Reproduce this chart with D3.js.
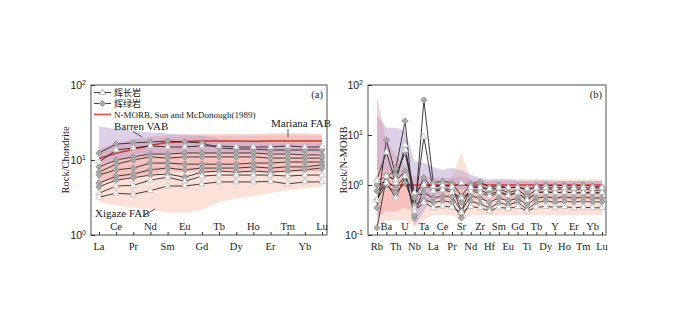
<!DOCTYPE html>
<html>
<head>
<meta charset="utf-8">
<script src="https://d3js.org/d3.v7.min.js"></script>
<style>
  body { margin: 0; background: #fff; }
  svg { font-family: "Liberation Serif", "DejaVu Serif", serif; }
</style>
</head>
<body>
<svg id="chart" width="700" height="335"></svg>
<script>
// ---- data (a): chondrite normalised REE ----
const reeLabels = ["La","Ce","Pr","Nd","Sm","Eu","Gd","Tb","Dy","Ho","Er","Tm","Yb","Lu"]
const nmorbREE = [10.5,12.3,13.9,15.6,17.2,17.6,17.9,17.9,17.9,17.8,17.9,17.9,17.9,17.9]
const gabbroREE = [
  [9.4,13.6,14.5,15.4,14.9,14.9,15.4,15.4,14.9,14.9,14.9,15.4,14.9,14.9],
  [3.6,4.5,4.6,5.4,5.9,5.2,6.1,6.3,6.3,6.3,6.3,6.1,6.3,6.3],
  [3.2,3.6,3.5,3.9,4.5,4.5,4.8,5.1,5.1,5.1,5.2,4.8,5.1,5.1]
]
const diabaseREE = [
  [12.4,16.3,16.9,17.4,17.9,17.4,16.9,14.5,14.0,14.0,13.6,13.6,13.6,13.6],
  [8.1,10.0,11.0,12.0,12.0,12.4,12.4,12.4,12.4,12.4,12.0,12.0,11.7,11.7],
  [6.9,8.8,10.0,11.0,10.6,11.0,11.0,11.0,11.0,11.0,10.6,10.6,10.6,10.6],
  [6.3,7.4,7.8,9.1,9.1,8.8,8.8,8.8,8.8,9.1,9.1,9.4,9.4,9.4],
  [4.9,6.1,6.5,7.4,7.8,7.4,7.8,7.8,7.8,8.1,7.8,8.1,8.1,8.6],
  [4.4,5.4,5.8,6.3,6.5,5.9,6.9,7.1,6.9,7.1,6.9,7.1,7.4,7.8]
]
const barrenReeUpper  = [28,26,24.5,23.5,22.5,21.5,21,19,18,17.5,17,17,17,17]
const barrenReeLower  = [9,10.5,11.5,12,12.5,12.5,12.5,12.5,12.5,12.5,12.5,12.5,12.5,12.5]
const marianaReeUpper = [14,17,19,20.5,21.5,22,22,22,22,22,22.5,22.5,22.5,22]
const marianaReeLower = [5,5.5,6,6.5,7,7,7,7,7,7,7,7,7,7]
const xigazeReeUpper  = [13,16,18,19.5,20,20.5,21,21,21,21,21,21,21,21]
const xigazeReeLower  = [2.75,2.5,2.3,2.15,2.0,1.97,2.15,2.75,3.1,3.3,3.6,4.0,4.2,4.4]

// ---- data (b): N-MORB normalised spidergram ----
const spiderLabels = ["Rb","Ba","Th","U","Nb","Ta","La","Ce","Pr","Sr","Nd","Zr","Hf","Sm","Eu","Gd","Ti","Tb","Dy","Y","Ho","Er","Tm","Yb","Lu"]
const nmorbSpider = [1,1,1,1,1,1,1,1,1,1,1,1,1,1,1,1,1,1,1,1,1,1,1,1,1]
const gabbroSpider = [
  [1.3,4.5,1.1,6.3,0.35,9.1,0.75,0.8,0.72,0.55,0.75,0.7,0.6,0.7,0.62,0.7,0.5,0.7,0.72,0.7,0.72,0.7,0.7,0.72,0.7],
  [1.2,1.5,1.3,5,0.7,1.0,0.95,0.98,0.92,1.1,0.9,0.88,0.85,0.88,0.9,0.88,0.85,0.88,0.88,0.87,0.88,0.87,0.88,0.87,0.88],
  [0.5,1.1,0.55,1.5,0.3,0.45,0.35,0.38,0.36,0.28,0.37,0.35,0.3,0.36,0.34,0.37,0.3,0.36,0.37,0.36,0.37,0.35,0.36,0.35,0.35]
]
const diabaseSpider = [
  [0.5,1.6,1.2,1.9,0.22,50,1.1,1.2,1.1,0.6,1.05,1.15,0.9,1.0,0.85,0.95,0.75,0.95,1.0,0.95,1.0,0.95,1.0,0.95,0.9],
  [0.14,1.4,2.1,19,0.25,0.9,0.9,1.0,0.95,0.3,0.9,0.95,0.75,0.85,0.7,0.8,0.6,0.8,0.85,0.8,0.85,0.8,0.82,0.8,0.78],
  [0.35,7.9,1.6,4.5,0.55,1.4,0.8,0.85,0.8,0.45,0.8,0.8,0.65,0.75,0.62,0.72,0.5,0.7,0.75,0.7,0.72,0.7,0.7,0.68,0.7],
  [1.0,1.2,0.9,1.5,0.6,0.7,0.55,0.6,0.58,0.3,0.6,0.55,0.45,0.55,0.48,0.55,0.4,0.55,0.58,0.55,0.58,0.55,0.57,0.55,0.55],
  [0.75,1.0,0.7,1.1,0.4,0.5,0.45,0.48,0.45,0.22,0.47,0.42,0.35,0.44,0.4,0.46,0.32,0.45,0.48,0.45,0.47,0.46,0.47,0.46,0.46]
]
const barrenSpiderUpper  = [25,14,14,12,3,2.8,2.3,2.0,2.2,2.0,1.6,1.4,1.3,1.3,1.3,1.25,1.2,1.25,1.25,1.2,1.2,1.2,1.2,1.2,1.2]
const barrenSpiderLower  = [2,2,1.5,1.5,0.15,0.3,0.6,0.7,0.8,0.8,0.85,0.85,0.85,0.85,0.85,0.85,0.85,0.85,0.85,0.85,0.85,0.85,0.85,0.85,0.85]
const marianaSpiderUpper = [55,8,4,2.5,1.5,1.5,1.4,1.4,1.4,1.5,1.3,1.25,1.2,1.2,1.2,1.2,1.2,1.2,1.2,1.2,1.2,1.2,1.2,1.2,1.2]
const marianaSpiderLower = [0.23,0.3,0.3,0.35,0.3,0.4,0.5,0.5,0.5,0.45,0.5,0.5,0.5,0.5,0.5,0.5,0.5,0.5,0.5,0.5,0.5,0.5,0.5,0.5,0.5]
const xigazeSpiderUpper  = [3,2.5,1.5,1.3,0.5,0.6,0.9,1.0,1.5,4.4,1.3,1.1,1.2,1.3,1.3,1.3,1.3,1.3,1.3,1.3,1.3,1.3,1.3,1.3,1.3]
const xigazeSpiderLower  = [0.15,0.2,0.2,0.2,0.15,0.2,0.25,0.25,0.25,0.2,0.25,0.25,0.25,0.25,0.25,0.25,0.25,0.25,0.25,0.25,0.25,0.25,0.25,0.25,0.25]

const svg = d3.select('#chart')

function drawPanel(cfg) {
  const x = d3.scalePoint().domain(cfg.labels).range([cfg.left + cfg.padL, cfg.right - cfg.padR])
  const y = d3.scaleLog().domain(cfg.domain).range([235, 85])
  const g = svg.append('g')
  const clipId = 'clip' + cfg.name
  g.append('clipPath').attr('id', clipId).append('rect')
    .attr('x', cfg.left).attr('y', 85).attr('width', cfg.right - cfg.left).attr('height', 150)

  // fields
  const fieldG = g.append('g').attr('clip-path', `url(#${clipId})`)
  cfg.fields.forEach(f => {
    const area = d3.area()
      .x((d, i) => x(cfg.labels[i]))
      .y0((d, i) => y(f.lower[i]))
      .y1(d => y(d))
    fieldG.append('path').datum(f.upper).attr('d', area)
      .attr('fill', f.color).attr('fill-opacity', f.opacity)
  })

  // N-MORB reference
  const line = d3.line().x((d, i) => x(cfg.labels[i])).y(d => y(d))
  fieldG.append('path').datum(cfg.nmorb).attr('d', line)
    .attr('fill', 'none').attr('stroke', cfg.nmorbColor).attr('stroke-width', 1.6)

  // sample lines
  const all = cfg.diabase.map(d => ({type: 'd', v: d})).concat(cfg.gabbro.map(d => ({type: 'g', v: d})))
  all.forEach(s => {
    fieldG.append('path').datum(s.v).attr('d', line)
      .attr('fill', 'none').attr('stroke', '#2a2a2a').attr('stroke-width', 0.9)
  })
  all.forEach(s => {
    fieldG.selectAll(null).data(s.v).enter().append('path')
      .attr('d', s.type === 'd' ? d3.symbol(d3.symbolSquare, 20)() : d3.symbol(d3.symbolTriangle, 18)())
      .attr('transform', (d, i) => `translate(${x(cfg.labels[i])},${y(d)})` + (s.type === 'd' ? ' rotate(45)' : ''))
      .attr('fill', s.type === 'd' ? '#a9a9a9' : '#fff')
      .attr('stroke', s.type === 'd' ? '#8a8a8a' : '#b0b0b0')
      .attr('stroke-width', 0.7)
  })

  // frame
  g.append('rect').attr('x', cfg.left).attr('y', 85)
    .attr('width', cfg.right - cfg.left).attr('height', 150)
    .attr('fill', 'none').attr('stroke', '#6e6e6e').attr('stroke-width', 1.2)

  // y axis
  const yAx = g.append('g').attr('transform', `translate(${cfg.left},0)`)
    .call(d3.axisLeft(y).tickValues(cfg.decades).tickSize(-4).tickFormat(''))
  yAx.select('.domain').remove()
  yAx.selectAll('.tick line').attr('stroke', '#333')
  yAx.selectAll('.tick > text').remove()
  yAx.selectAll('.tick').append('text')
    .attr('x', -5).attr('y', 3).attr('text-anchor', 'end').attr('fill', '#222')
    .attr('font-size', 10.5)
    .each(function(d) {
      const t = d3.select(this)
      t.append('tspan').text('10')
      t.append('tspan').attr('dy', -4).attr('font-size', 7).text(Math.round(Math.log10(d)))
    })

  // x axis
  const xAx = g.append('g').attr('transform', 'translate(0,235)')
    .call(d3.axisBottom(x).tickSize(-3).tickFormat(''))
  xAx.select('.domain').remove()
  xAx.selectAll('.tick line').attr('stroke', '#333')
  xAx.selectAll('.tick > text').remove()
  g.selectAll(null).data(cfg.labels).enter().append('text')
    .attr('x', d => x(d))
    .attr('y', (d, i) => i % 2 === 0 ? 249.5 : 230)
    .attr('text-anchor', 'middle').attr('font-size', 10.5).attr('fill', '#222')
    .text(d => d)

  // axis title
  g.append('text')
    .attr('transform', `translate(${cfg.titleX},160) rotate(-90)`)
    .attr('text-anchor', 'middle').attr('font-size', 10.5).attr('fill', '#222')
    .text(cfg.title)

  // panel tag
  g.append('text').attr('x', cfg.right - 4).attr('y', 97.5)
    .attr('text-anchor', 'end').attr('font-size', 10.5).attr('fill', '#222')
    .text(cfg.tag)
  return {x, y, g}
}

const pa = drawPanel({
  name: 'a', labels: reeLabels, left: 91, right: 327, padL: 8, padR: 5,
  domain: [1, 100], decades: [1, 10, 100],
  fields: [
    {upper: xigazeReeUpper, lower: xigazeReeLower, color: '#fbdcd2', opacity: 0.85},
    {upper: marianaReeUpper, lower: marianaReeLower, color: '#ef9f9f', opacity: 0.5},
    {upper: barrenReeUpper, lower: barrenReeLower, color: '#b9a2d4', opacity: 0.5}
  ],
  nmorb: nmorbREE, nmorbColor: '#c0392b',
  diabase: diabaseREE, gabbro: gabbroREE,
  title: 'Rock/Chondrite', titleX: 69, tag: '(a)'
})

drawPanel({
  name: 'b', labels: spiderLabels, left: 368, right: 606, padL: 9, padR: 4,
  domain: [0.1, 100], decades: [0.1, 1, 10, 100],
  fields: [
    {upper: xigazeSpiderUpper, lower: xigazeSpiderLower, color: '#fbdcd2', opacity: 0.85},
    {upper: marianaSpiderUpper, lower: marianaSpiderLower, color: '#ef9f9f', opacity: 0.5},
    {upper: barrenSpiderUpper, lower: barrenSpiderLower, color: '#b9a2d4', opacity: 0.5}
  ],
  nmorb: nmorbSpider, nmorbColor: '#e8302a',
  diabase: diabaseSpider, gabbro: gabbroSpider,
  title: 'Rock/N-MORB', titleX: 347, tag: '(b)'
})

// legend (a)
const lg = pa.g.append('g')
const legendRows = [
  {label: '辉长岩', type: 'g', y: 92.5},
  {label: '辉绿岩', type: 'd', y: 103.5},
  {label: 'N-MORB, Sun and McDonough(1989)', type: 'n', y: 114.5}
]
legendRows.forEach(r => {
  lg.append('line').attr('x1', 94).attr('x2', 111).attr('y1', r.y).attr('y2', r.y)
    .attr('stroke', r.type === 'n' ? '#e05a50' : '#444').attr('stroke-width', r.type === 'n' ? 1.8 : 1)
  if (r.type !== 'n') {
    lg.append('path')
      .attr('d', r.type === 'd' ? d3.symbol(d3.symbolSquare, 20)() : d3.symbol(d3.symbolTriangle, 18)())
      .attr('transform', `translate(102.5,${r.y})` + (r.type === 'd' ? ' rotate(45)' : ''))
      .attr('fill', r.type === 'd' ? '#a9a9a9' : '#fff')
      .attr('stroke', r.type === 'd' ? '#8a8a8a' : '#999').attr('stroke-width', 0.7)
  }
  lg.append('text').attr('x', 114).attr('y', r.y + 3.2)
    .attr('font-size', 9).attr('fill', '#222')
    .style('font-family', '"Liberation Serif", "Noto Sans CJK SC", serif')
    .text(r.label)
})

// field labels (a)
const ann = pa.g.append('g').attr('font-size', 11).attr('fill', '#222')
ann.append('text').attr('x', 114).attr('y', 130).text('Barren VAB')
ann.append('line').attr('x1', 133).attr('y1', 131.5).attr('x2', 142).attr('y2', 137).attr('stroke', '#333').attr('stroke-width', 0.8)
ann.append('text').attr('x', 271).attr('y', 127).text('Mariana FAB')
ann.append('line').attr('x1', 288).attr('y1', 129).attr('x2', 288).attr('y2', 137).attr('stroke', '#333').attr('stroke-width', 0.8)
ann.append('text').attr('x', 95).attr('y', 217).text('Xigaze FAB')
ann.append('line').attr('x1', 143).attr('y1', 216).attr('x2', 155).attr('y2', 209).attr('stroke', '#333').attr('stroke-width', 0.8)
</script>
</body>
</html>
